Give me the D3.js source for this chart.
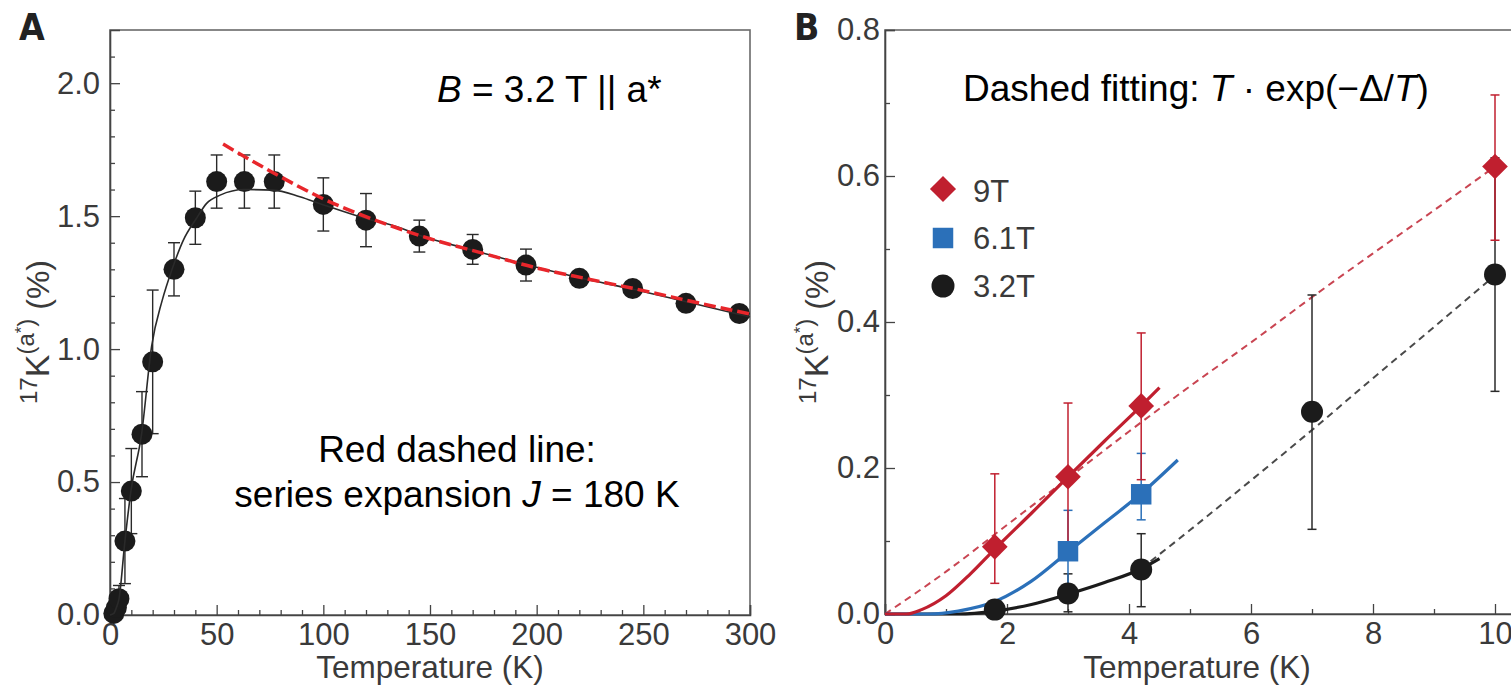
<!DOCTYPE html>
<html>
<head>
<meta charset="utf-8">
<script src="https://cdn.jsdelivr.net/npm/d3@7/dist/d3.min.js"></script>
<style>
  html, body { margin: 0; padding: 0; background: #fff; }
  svg { display: block; }
  text { font-family: "Liberation Sans", Arial, Helvetica, sans-serif; }
</style>
</head>
<body>
<svg id="fig" width="1511" height="691"></svg>
<script>
// ---------- Panel A: 17K(a*) vs temperature, B = 3.2 T ----------
const aTemp = [1.8, 3, 4.2, 7, 10, 15, 20, 30, 40, 50, 63, 77, 100, 120, 145, 170, 195, 220, 245, 270, 295];
const aShift = [0.006, 0.028, 0.061, 0.278, 0.466, 0.68, 0.952, 1.30, 1.494, 1.63, 1.63, 1.63, 1.544, 1.485, 1.425, 1.375, 1.316, 1.266, 1.228, 1.172, 1.134];
const aErr = [0.02, 0.03, 0.05, 0.16, 0.16, 0.16, 0.27, 0.10, 0.10, 0.10, 0.10, 0.10, 0.10, 0.10, 0.06, 0.056, 0.06, 0.02, 0.02, 0.015, 0.015];

// smooth guide through the data
const aCurveT = [0, 1.8, 3, 4.2, 7, 9.8, 14.8, 19.5, 24.5, 29.1, 34.4, 40.4, 45.3, 51.6, 63, 76.6, 89, 99.5, 120.3, 134.5, 145, 170, 195, 220, 245, 270, 300];
const aCurveK = [0, 0.006, 0.028, 0.06, 0.278, 0.466, 0.68, 1.01, 1.184, 1.30, 1.41, 1.49, 1.548, 1.579, 1.60, 1.598, 1.573, 1.544, 1.49, 1.46, 1.428, 1.372, 1.318, 1.268, 1.225, 1.178, 1.121];

// high-temperature series expansion, J = 180 K
const aSeriesT = [53, 75, 100, 133, 150, 175, 200, 225, 250, 275, 300];
const aSeriesK = [1.771, 1.67, 1.565, 1.46, 1.415, 1.36, 1.305, 1.262, 1.22, 1.175, 1.132];

const aXMajor = [0, 50, 100, 150, 200, 250, 300];
const aYMajor = [0.0, 0.5, 1.0, 1.5, 2.0];

// ---------- Panel B: low-temperature data at three fields ----------
const b9T = [1.8, 3, 4.2, 10];
const b9K = [0.092, 0.188, 0.285, 0.613];
const b9Lo = [0.042, 0.088, 0.184, 0.512];
const b9Hi = [0.192, 0.289, 0.385, 0.711];

const b61T = [3, 4.2];
const b61K = [0.086, 0.164];
const b61Lo = [0.031, 0.129];
const b61Hi = [0.142, 0.220];

const b32T = [1.8, 3, 4.2, 7, 10];
const b32K = [0.006, 0.028, 0.061, 0.277, 0.465];
const b32Lo = [0.006, 0.003, 0.010, 0.116, 0.305];
const b32Hi = [0.006, 0.055, 0.110, 0.437, 0.625];

// solid guides
const b9SolidT = [0, 0.35, 0.6, 1, 1.4, 1.8, 2.4, 3, 3.6, 4.2, 4.5];
const b9SolidK = [0, 0, 0.006, 0.025, 0.055, 0.089, 0.138, 0.188, 0.237, 0.285, 0.31];
const b61SolidT = [0, 0.7, 1.2, 1.8, 2.4, 3, 3.6, 4.2, 4.8];
const b61SolidK = [0, 0, 0.004, 0.017, 0.045, 0.085, 0.125, 0.165, 0.211];
const b32SolidT = [0, 1.2, 1.8, 2.4, 3, 3.6, 4.2, 4.5];
const b32SolidK = [0, 0, 0.004, 0.013, 0.027, 0.043, 0.062, 0.076];

// dashed T·exp(−Δ/T) fits
const b9DashT = [0, 1, 2, 3, 4, 5, 6, 7, 8, 9, 10];
const b9DashK = [0, 0.058, 0.122, 0.186, 0.25, 0.312, 0.372, 0.434, 0.494, 0.553, 0.613];
const b32DashT = [4.2, 5, 6, 7, 8, 9, 10];
const b32DashK = [0.062, 0.115, 0.183, 0.252, 0.323, 0.393, 0.464];

const bXMajor = [0, 2, 4, 6, 8, 10];
const bYMajor = [0.0, 0.2, 0.4, 0.6, 0.8];

const legendLabels = ["9T", "6.1T", "3.2T"];

// ---------- styling ----------
const RED_A = "#e8262b";
const RED = "#c01f2f";
const RED_DASH = "#c94552";
const BLUE = "#2b70b9";
const BLACK = "#1b1b1b";
const TICK_TXT = "#3a3a3a";
const FRAME = "#6a6a6a";

const svg = d3.select("#fig");

function drawFrame(x, y) {
  const [x0, x1] = x.range();
  const [y0, y1] = y.range();
  svg.append("rect")
    .attr("x", x0).attr("y", y1)
    .attr("width", x1 - x0).attr("height", y0 - y1)
    .attr("fill", "none").attr("stroke", FRAME).attr("stroke-width", 1.6);
}

function drawAxes(x, y, xMajor, xMinor, yMajor, yMinor, xFmt, yFmt, yPad) {
  const [x0, x1] = x.range();
  const [y0, y1] = y.range();
  // minor ticks
  svg.append("g").attr("transform", `translate(0,${y0})`)
    .call(d3.axisBottom(x).tickValues(xMinor).tickSize(-5).tickFormat(""))
    .call(g => g.select(".domain").remove())
    .call(g => g.selectAll("line").attr("stroke", "#444").attr("stroke-width", 1.3));
  svg.append("g").attr("transform", `translate(${x0},0)`)
    .call(d3.axisLeft(y).tickValues(yMinor).tickSize(-5).tickFormat(""))
    .call(g => g.select(".domain").remove())
    .call(g => g.selectAll("line").attr("stroke", "#444").attr("stroke-width", 1.3));
  // major ticks with labels
  const gx = svg.append("g").attr("transform", `translate(0,${y0})`)
    .call(d3.axisBottom(x).tickValues(xMajor).tickSize(-10).tickPadding(8).tickFormat(xFmt));
  gx.select(".domain").attr("stroke", "#444").attr("stroke-width", 1.6);
  gx.selectAll("line").attr("stroke", "#444").attr("stroke-width", 1.3);
  gx.selectAll("text").attr("font-size", 31).attr("fill", TICK_TXT)
    .style("font-family", "'Liberation Sans', Arial, sans-serif");
  const gy = svg.append("g").attr("transform", `translate(${x0},0)`)
    .call(d3.axisLeft(y).tickValues(yMajor).tickSize(-10).tickPadding(yPad).tickFormat(yFmt));
  gy.select(".domain").attr("stroke", "#444").attr("stroke-width", 1.6);
  gy.selectAll("line").attr("stroke", "#444").attr("stroke-width", 1.3);
  gy.selectAll("text").attr("font-size", 31).attr("fill", TICK_TXT)
    .style("font-family", "'Liberation Sans', Arial, sans-serif");
}

function yLabel(cx, cy) {
  const t = svg.append("text")
    .attr("transform", `translate(${cx},${cy}) rotate(-90)`)
    .attr("text-anchor", "middle").attr("fill", TICK_TXT);
  t.append("tspan").attr("font-size", 24).attr("dy", -12).text("17");
  t.append("tspan").attr("font-size", 34).attr("dy", 12).text("K");
  t.append("tspan").attr("font-size", 24).attr("dy", -15).text("(a");
  t.append("tspan").attr("font-size", 17).attr("dy", -7).text("*");
  t.append("tspan").attr("font-size", 24).attr("dy", 7).text(")");
  t.append("tspan").attr("font-size", 32).attr("dy", 15).text(" (%)");
}

function xLabel(cx, baseline) {
  svg.append("text").attr("x", cx).attr("y", baseline)
    .attr("text-anchor", "middle").attr("font-size", 31.5).attr("fill", TICK_TXT)
    .text("Temperature (K)");
}

function panelLetter(x, y, s) {
  svg.append("text").attr("x", x).attr("y", y)
    .attr("font-size", 37).attr("font-weight", "bold").attr("fill", "#222")
    .style("font-family", "'Liberation Sans Narrow', 'DejaVu Sans Condensed', 'Arial Narrow', sans-serif")
    .text(s);
}

function zip(a, b) { return a.map((v, i) => [v, b[i]]); }

// ================= Panel A =================
const xA = d3.scaleLinear().domain([0, 300]).range([110, 750]);
const yA = d3.scaleLinear().domain([0, 2.2]).range([615, 30]);

drawFrame(xA, yA);
drawAxes(xA, yA, aXMajor, d3.range(0, 301, 10).filter(v => v % 50 !== 0),
  aYMajor, d3.range(0, 22).map(i => i / 10).filter(v => Math.round(v * 10) % 5 !== 0),
  d3.format("d"), d3.format(".1f"), 10);

const lineA = d3.line().x(d => xA(d[0])).y(d => yA(d[1])).curve(d3.curveMonotoneX);

// error bars
const gErrA = svg.append("g").attr("stroke", "#2a2a2a").attr("stroke-width", 1.4);
aTemp.forEach((t, i) => {
  const x = xA(t), lo = yA(aShift[i] - aErr[i]), hi = yA(aShift[i] + aErr[i]);
  gErrA.append("line").attr("x1", x).attr("x2", x).attr("y1", lo).attr("y2", hi);
  gErrA.append("line").attr("x1", x - 6).attr("x2", x + 6).attr("y1", lo).attr("y2", lo);
  gErrA.append("line").attr("x1", x - 6).attr("x2", x + 6).attr("y1", hi).attr("y2", hi);
});

// data points
svg.append("g").selectAll("circle").data(zip(aTemp, aShift)).join("circle")
  .attr("cx", d => xA(d[0])).attr("cy", d => yA(d[1])).attr("r", 10.5)
  .attr("fill", BLACK);

// smooth guide
svg.append("path").datum(zip(aCurveT, aCurveK))
  .attr("d", lineA)
  .attr("fill", "none").attr("stroke", "#2a2a2a").attr("stroke-width", 1.6);

// series expansion
svg.append("path").datum(zip(aSeriesT, aSeriesK))
  .attr("d", lineA)
  .attr("fill", "none").attr("stroke", RED_A).attr("stroke-width", 3.5)
  .attr("stroke-dasharray", "12,5");

yLabel(49, 332);
xLabel(430, 678);
panelLetter(19, 40, "A");

const tB = svg.append("text").attr("x", 437).attr("y", 102).attr("font-size", 37).attr("fill", "#000");
tB.append("tspan").attr("font-style", "italic").text("B");
tB.append("tspan").text(" = 3.2 T || a*");

svg.append("text").attr("x", 457).attr("y", 462).attr("text-anchor", "middle")
  .attr("font-size", 37).attr("fill", "#000").text("Red dashed line:");
const tS = svg.append("text").attr("x", 457).attr("y", 507).attr("text-anchor", "middle")
  .attr("font-size", 37).attr("fill", "#000");
tS.append("tspan").text("series expansion ");
tS.append("tspan").attr("font-style", "italic").text("J");
tS.append("tspan").text(" = 180 K");

// ================= Panel B =================
const xB = d3.scaleLinear().domain([0, 10.3]).range([885, 885 + 61 * 10.3]);
const yB = d3.scaleLinear().domain([0, 0.8]).range([614, 30]);

drawFrame(xB, yB);
drawAxes(xB, yB, bXMajor, [1, 3, 5, 7, 9],
  bYMajor, [0.1, 0.3, 0.5, 0.7],
  d3.format("d"), d3.format(".1f"), 5);

const lineB = d3.line().x(d => xB(d[0])).y(d => yB(d[1])).curve(d3.curveMonotoneX);

// dashed fits
svg.append("path").datum(zip(b9DashT, b9DashK)).attr("d", lineB)
  .attr("fill", "none").attr("stroke", RED_DASH).attr("stroke-width", 2)
  .attr("stroke-dasharray", "7,5");
svg.append("path").datum(zip(b32DashT, b32DashK)).attr("d", lineB)
  .attr("fill", "none").attr("stroke", "#4a4a4a").attr("stroke-width", 2)
  .attr("stroke-dasharray", "7,5");

// error bars
function errBars(T, lo, hi, color) {
  const g = svg.append("g").attr("stroke", color).attr("stroke-width", 1.5);
  T.forEach((t, i) => {
    if (hi[i] - lo[i] < 0.001) return;
    const x = xB(t), y1 = yB(lo[i]), y2 = yB(hi[i]);
    g.append("line").attr("x1", x).attr("x2", x).attr("y1", y1).attr("y2", y2);
    g.append("line").attr("x1", x - 4.5).attr("x2", x + 4.5).attr("y1", y1).attr("y2", y1);
    g.append("line").attr("x1", x - 4.5).attr("x2", x + 4.5).attr("y1", y2).attr("y2", y2);
  });
}
errBars(b32T, b32Lo, b32Hi, "#2a2a2a");
errBars(b61T, b61Lo, b61Hi, BLUE);
errBars(b9T, b9Lo, b9Hi, RED);

// solid guides
svg.append("path").datum(zip(b32SolidT, b32SolidK)).attr("d", lineB)
  .attr("fill", "none").attr("stroke", BLACK).attr("stroke-width", 3.2);
svg.append("path").datum(zip(b61SolidT, b61SolidK)).attr("d", lineB)
  .attr("fill", "none").attr("stroke", BLUE).attr("stroke-width", 3.2);
svg.append("path").datum(zip(b9SolidT, b9SolidK)).attr("d", lineB)
  .attr("fill", "none").attr("stroke", RED).attr("stroke-width", 3.2);

// markers
const diamond = d3.symbol().type(d3.symbolSquare).size(330);
const square = d3.symbol().type(d3.symbolSquare).size(420);

svg.append("g").selectAll("circle").data(zip(b32T, b32K)).join("circle")
  .attr("cx", d => xB(d[0])).attr("cy", d => yB(d[1])).attr("r", 11).attr("fill", BLACK);
svg.append("g").selectAll("path").data(zip(b61T, b61K)).join("path")
  .attr("d", square).attr("transform", d => `translate(${xB(d[0])},${yB(d[1])})`)
  .attr("fill", BLUE);
svg.append("g").selectAll("path").data(zip(b9T, b9K)).join("path")
  .attr("d", diamond).attr("transform", d => `translate(${xB(d[0])},${yB(d[1])}) rotate(45)`)
  .attr("fill", RED);

// legend
const lgX = 943, lgY = [189, 238, 286], lgTextX = 973, lgBase = [202, 249, 297];
svg.append("path").attr("d", d3.symbol().type(d3.symbolSquare).size(340))
  .attr("transform", `translate(${lgX},${lgY[0]}) rotate(45)`).attr("fill", RED);
svg.append("path").attr("d", d3.symbol().type(d3.symbolSquare).size(420))
  .attr("transform", `translate(${lgX},${lgY[1]})`).attr("fill", BLUE);
svg.append("circle").attr("cx", lgX).attr("cy", lgY[2]).attr("r", 11.5).attr("fill", BLACK);
legendLabels.forEach((s, i) => {
  svg.append("text").attr("x", lgTextX).attr("y", lgBase[i])
    .attr("font-size", 31).attr("fill", TICK_TXT).text(s);
});

yLabel(828, 332);
xLabel(1197, 678);
panelLetter(794, 40, "B");

const tF = svg.append("text").attr("x", 963).attr("y", 101).attr("font-size", 37).attr("fill", "#000");
tF.append("tspan").text("Dashed fitting: ");
tF.append("tspan").attr("font-style", "italic").text("T");
tF.append("tspan").text(" \u00b7 exp(\u2212\u0394/");
tF.append("tspan").attr("font-style", "italic").text("T");
tF.append("tspan").text(")");
</script>
</body>
</html>
